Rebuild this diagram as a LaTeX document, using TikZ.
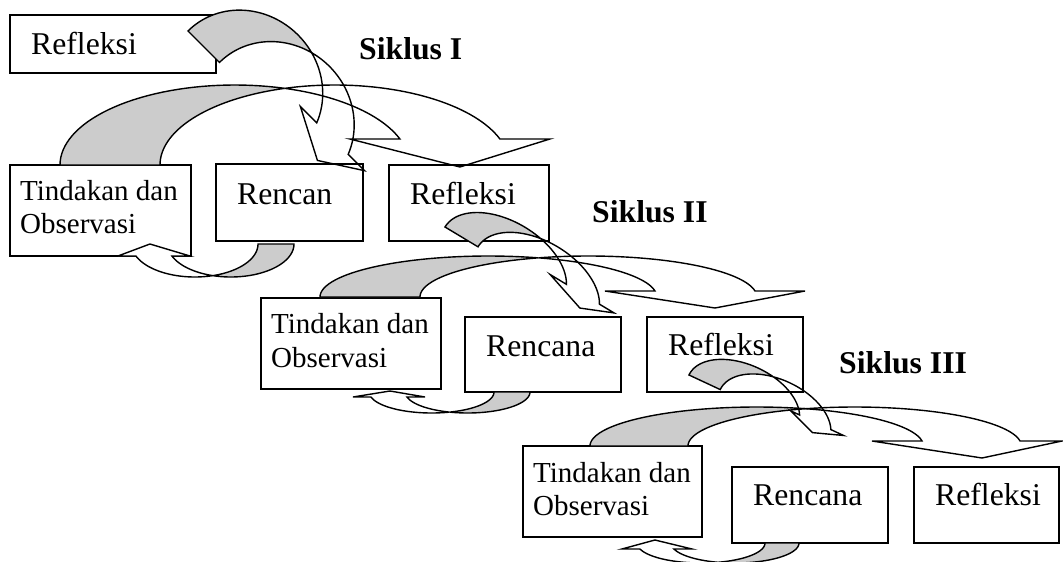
\documentclass[tikz,border=0pt]{standalone}
\usepackage{fontspec}
\setmainfont{Liberation Serif}
\definecolor{argray}{RGB}{204,204,204}
\pgfkeys{/carr/.is family, /carr,
  rx/.initial=100, ry/.initial=50, d/.initial=30, h/.initial=10,
  ea/.initial=15, eb/.initial=15, tx/.initial=0, ty/.initial=0,
  frontfill/.initial=none}
\newcommand\carrow[2]{%
 \begingroup
 \pgfkeys{/carr,#2}%
 \pgfmathsetmacro\Rx{\pgfkeysvalueof{/carr/rx}}%
 \pgfmathsetmacro\Ry{\pgfkeysvalueof{/carr/ry}}%
 \pgfmathsetmacro\Dd{\pgfkeysvalueof{/carr/d}}%
 \pgfmathsetmacro\Hh{\pgfkeysvalueof{/carr/h}}%
 \pgfmathsetmacro\Ea{\pgfkeysvalueof{/carr/ea}}%
 \pgfmathsetmacro\Eb{\pgfkeysvalueof{/carr/eb}}%
 \pgfmathsetmacro\Tx{\pgfkeysvalueof{/carr/tx}}%
 \pgfmathsetmacro\Ty{\pgfkeysvalueof{/carr/ty}}%
 \pgfmathsetmacro\Ta{acos(\Dd/(2*\Rx))}%
 \pgfmathsetmacro\Tb{180-\Ta}%
 \pgfmathsetmacro\Te{asin(\Hh/\Ry)}%
 \pgfmathsetmacro\Ca{\Rx}%
 \pgfmathsetmacro\Cb{\Rx+\Dd}%
 \pgfmathsetmacro\Xa{\Ca+\Rx*cos(\Te)}%
 \pgfmathsetmacro\Xb{\Cb+\Rx*cos(\Te)}%
 \pgfmathsetmacro\Xt{(\Xa+\Xb)/2+\Tx}%
 \begin{scope}[#1]
   \filldraw[backpart] plot[domain=180:\Ta, samples=40] ({\Ca+\Rx*cos(\x)},{-\Ry*sin(\x)})
      -- plot[domain=\Tb:180, samples=40] ({\Cb+\Rx*cos(\x)},{-\Ry*sin(\x)}) -- cycle;
   \draw[frontpart, fill=\pgfkeysvalueof{/carr/frontfill}]
      plot[domain=\Tb:\Te, samples=40] ({\Cb+\Rx*cos(\x)},{-\Ry*sin(\x)})
      -- ({\Xb+\Eb},{-\Hh}) -- ({\Xt},{\Ty}) -- ({\Xa-\Ea},{-\Hh})
      -- plot[domain=\Te:\Ta, samples=40] ({\Ca+\Rx*cos(\x)},{-\Ry*sin(\x)}) -- cycle;
 \end{scope}
 \endgroup}
\tikzset{
  box/.style={draw, line width=1.4pt, fill=white, rectangle, anchor=north west, outer sep=0pt, inner sep=0pt},
  backpart/.style={fill=argray, draw=black, line width=1.4pt, line join=miter},
  frontpart/.style={draw=black, line width=1.4pt, line join=miter},
  txt/.style={anchor=base west, inner sep=0pt, font=\fontsize{31.7}{36}\selectfont},
  stxt/.style={anchor=base west, inner sep=0pt, font=\fontsize{29}{33}\selectfont},
  btxt/.style={anchor=base west, inner sep=0pt, font=\fontsize{31.7}{36}\selectfont\bfseries}
}
\begin{document}
\begin{tikzpicture}[x=1pt, y=-1pt]
\useasboundingbox (0,0) rectangle (1063,562);
\fill[white] (0,0) rectangle (1063,562);
% boxes
\node[box, minimum width=206pt, minimum height=58pt] (f0) at (10,15) {};
\node[box, minimum width=181pt, minimum height=91pt] (t1) at (10,165) {};
\node[box, minimum width=147pt, minimum height=77pt] (r1) at (216,164) {};
\node[box, minimum width=160pt, minimum height=76pt] (f1) at (389,165) {};
\node[box, minimum width=180pt, minimum height=91pt] (t2) at (261,298) {};
\node[box, minimum width=156pt, minimum height=75pt] (r2) at (465,317) {};
\node[box, minimum width=156pt, minimum height=75pt] (f2) at (647,317) {};
\node[box, minimum width=179pt, minimum height=91pt] (t3) at (523,446) {};
\node[box, minimum width=156pt, minimum height=76pt] (r3) at (732,467) {};
\node[box, minimum width=145pt, minimum height=76pt] (f3) at (914,467) {};
% big arrows (Tindakan -> Refleksi)
\carrow{shift={(60,165)}}{rx=174.7, ry=80, d=100, h=26, ea=50, eb=50, tx=10, ty=2}
\carrow{shift={(320,297)}}{rx=168.4, ry=41, d=100, h=6, ea=50, eb=50, tx=10, ty=11}
\carrow{shift={(590,446)}}{rx=166.7, ry=39, d=98, h=5, ea=50, eb=42, tx=11, ty=12}
% arrows Refleksi -> Rencana
\carrow{shift={(188,31)}, rotate=-45}{rx=80.5, ry=75, d=44.5, h=26, ea=23, eb=23, tx=4.8, ty=0}
\carrow{shift={(445,227)}, rotate=-31}{rx=68.7, ry=41, d=38.5, h=13.4, ea=19, eb=17, tx=4.5, ty=0}
\carrow{shift={(689,375)}, rotate=-25}{rx=59.9, ry=35.5, d=34.5, h=10.5, ea=10, eb=14, tx=2, ty=0}
% arrows Rencana -> Tindakan
\carrow{shift={(294,244)}, rotate=180}{rx=63.2, ry=33, d=36, h=12, ea=18, eb=18, tx=4, ty=0, frontfill=white}
\carrow{shift={(530,392)}, rotate=180}{rx=62.4, ry=21, d=36, h=5, ea=18, eb=18, tx=-1, ty=1, frontfill=white}
\carrow{shift={(799,543)}, rotate=180}{rx=64, ry=20, d=34, h=6, ea=18, eb=18, tx=2, ty=3, frontfill=white}
% texts
\node[txt] (tf0) at (31,54) {Refleksi};
\node[stxt] (tt1a) at (20,200) {Tindakan dan};
\node[stxt] (tt1b) at (20,233) {Observasi};
\node[txt] (tr1) at (237,204) {Rencan};
\node[txt] (tf1) at (410,204) {Refleksi};
\node[stxt] (tt2a) at (271,333) {Tindakan dan};
\node[stxt] (tt2b) at (271,367) {Observasi};
\node[txt] (tr2) at (486,356) {Rencana};
\node[txt] (tf2) at (668,355) {Refleksi};
\node[stxt] (tt3a) at (533,482) {Tindakan dan};
\node[stxt] (tt3b) at (533,515) {Observasi};
\node[txt] (tr3) at (753,505) {Rencana};
\node[txt] (tf3) at (935,505) {Refleksi};
\node[btxt] (s1) at (359,59) {Siklus I};
\node[btxt] (s2) at (592,222) {Siklus II};
\node[btxt] (s3) at (839,373) {Siklus III};
\end{tikzpicture}
\end{document}
